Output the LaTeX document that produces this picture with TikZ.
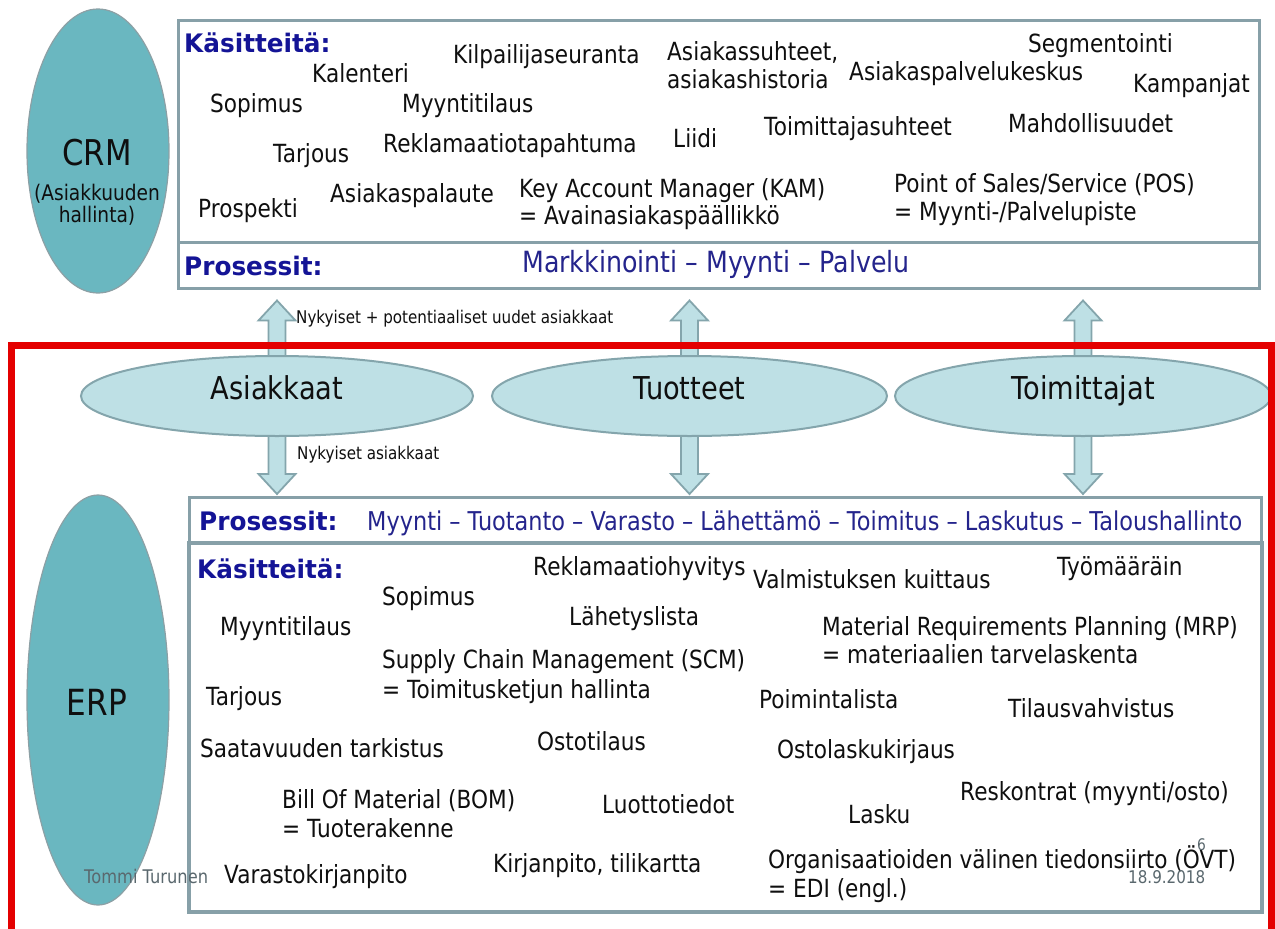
\documentclass[tikz,border=0pt]{standalone}
\usepackage{fontspec}
\setmainfont{DejaVu Sans}[FakeStretch=0.865]
\newfontfamily\headfont{DejaVu Sans}[FakeStretch=0.97]
\usetikzlibrary{calc,shapes.geometric}

\definecolor{inkblack}{RGB}{15,15,15}
\definecolor{headblue}{RGB}{20,20,150}
\definecolor{procblue}{RGB}{36,36,140}
\definecolor{tealfill}{RGB}{106,183,192}
\definecolor{tealline}{RGB}{140,160,165}
\definecolor{palefill}{RGB}{190,224,229}
\definecolor{paleline}{RGB}{132,165,172}
\definecolor{boxline}{RGB}{135,160,168}
\definecolor{framered}{RGB}{228,0,0}
\definecolor{footgray}{RGB}{90,104,110}

\tikzset{
  concept/.style={anchor=base west, inner sep=0pt, text=inkblack, font=\fontsize{25}{30}\selectfont},
  head/.style={anchor=base west, inner sep=0pt, text=headblue, font=\headfont\bfseries\fontsize{25.5}{30}\selectfont},
  proc/.style={anchor=base west, inner sep=0pt, text=procblue},
  note/.style={anchor=base west, inner sep=0pt, text=inkblack, font=\fontsize{17.5}{20}\selectfont},
  foot/.style={inner sep=0pt, text=footgray},
  bigell/.style={ellipse, fill=tealfill, draw=tealline, line width=1.2pt, inner sep=0pt},
  rowell/.style={ellipse, fill=palefill, draw=paleline, line width=2pt, inner sep=0pt,
    text=inkblack, font=\fontsize{31.5}{36}\selectfont, text height=0.76em, text depth=0pt},
  panel/.style={rectangle, fill=white, draw=boxline, line width=2.5pt, inner sep=0pt, anchor=north west},
  barrow/.style={fill=palefill, draw=paleline, line width=1.8pt, line join=miter},
  bigtext/.style={inner sep=0pt, anchor=base, text=inkblack},
}

% vertical block arrow from the shaft base #1 to the tip #2
\newcommand\blockarrow[2]{%
  \draw[barrow] let \p1=(#1), \p2=(#2), \n1={sign(\y2-\y1)} in
    (\x1-8.5pt,\y1) -- (\x1-8.5pt,\y2-\n1*20pt) -- (\x1-18.5pt,\y2-\n1*20pt)
    -- (\x1,\y2) -- (\x1+18.5pt,\y2-\n1*20pt) -- (\x1+8.5pt,\y2-\n1*20pt)
    -- (\x1+8.5pt,\y1) -- cycle;}

\begin{document}
\begin{tikzpicture}[x=1pt,y=-1pt]
\fill[white] (0,0) rectangle (1275,929);
\useasboundingbox (0,0) rectangle (1275,929);

% CRM and ERP panels
\node[panel, minimum width=1081pt, minimum height=222pt] (crmk) at (177,19) {};
\node[panel, minimum width=1081pt, minimum height=46pt] (crmp) at (177,241) {};
\node[panel, minimum width=1072pt, minimum height=46pt] (erpp) at (188,496) {};
\node[panel, minimum width=1072pt, minimum height=368pt] (erpk) at (188,542) {};

% centres of the entity ellipses
\path (277,396) coordinate (asiC) (689.5,396) coordinate (tuoC) (1083,396) coordinate (toiC);

\coordinate (up1) at ($(asiC |- crmp.south)+(0,11)$);
\coordinate (up2) at ($(tuoC |- crmp.south)+(0,11)$);
\coordinate (up3) at ($(toiC |- crmp.south)+(0,11)$);
\coordinate (dn1) at ($(asiC |- erpp.north)+(0,-2)$);
\coordinate (dn2) at ($(tuoC |- erpp.north)+(0,-2)$);
\coordinate (dn3) at ($(toiC |- erpp.north)+(0,-2)$);

\blockarrow{asiC}{up1}
\blockarrow{tuoC}{up2}
\blockarrow{toiC}{up3}
\blockarrow{asiC}{dn1}
\blockarrow{tuoC}{dn2}
\blockarrow{toiC}{dn3}

\node[rowell, minimum width=392pt, minimum height=80pt] (asi) at (asiC) {Asiakkaat};
\node[rowell, minimum width=395pt, minimum height=80pt] (tuo) at (tuoC) {Tuotteet};
\node[rowell, minimum width=376pt, minimum height=80pt] (toi) at (toiC) {Toimittajat};

\node[note] (nyk1) at (296,323) {Nykyiset + potentiaaliset uudet asiakkaat};
\node[note] (nyk2) at (297,459) {Nykyiset asiakkaat};

% CRM / ERP ellipses
\node[bigell, minimum width=142pt, minimum height=284pt] (crm) at (98,151) {};
\node[bigell, minimum width=142pt, minimum height=410pt] (erp) at (98,700) {};
\node[bigtext, font=\fontsize{35.5}{40}\selectfont] (crmt) at (97,165) {CRM};
\node[bigtext, font=\fontsize{21.5}{24}\selectfont] (crms1) at (97,200) {(Asiakkuuden};
\node[bigtext, font=\fontsize{21.5}{24}\selectfont] (crms2) at (97,222) {hallinta)};
\node[bigtext, font=\fontsize{36}{40}\selectfont] (erpt) at (97,715) {ERP};

% CRM concepts
\node[head] (ckas) at (184,52) {Käsitteitä:};
\node[concept] (c1) at (312,82) {Kalenteri};
\node[concept] (c2) at (453,63) {Kilpailijaseuranta};
\node[concept] (c3a) at (667,60) {Asiakassuhteet,};
\node[concept] (c3b) at (667,88) {asiakashistoria};
\node[concept] (c4) at (849,80) {Asiakaspalvelukeskus};
\node[concept] (c5) at (1028,52) {Segmentointi};
\node[concept] (c6) at (1133,92) {Kampanjat};
\node[concept] (c7) at (210,112) {Sopimus};
\node[concept] (c8) at (402,112) {Myyntitilaus};
\node[concept] (c9) at (273,162) {Tarjous};
\node[concept] (c10) at (383,152) {Reklamaatiotapahtuma};
\node[concept] (c11) at (673,147) {Liidi};
\node[concept] (c12) at (764,135) {Toimittajasuhteet};
\node[concept] (c13) at (1008,132) {Mahdollisuudet};
\node[concept] (c14) at (198,217) {Prospekti};
\node[concept] (c15) at (330,202) {Asiakaspalaute};
\node[concept] (c16a) at (519,197) {Key Account Manager (KAM)};
\node[concept] (c16b) at (519,224) {= Avainasiakaspäällikkö};
\node[concept] (c17a) at (894,192) {Point of Sales/Service (POS)};
\node[concept] (c17b) at (894,220) {= Myynti-/Palvelupiste};
\node[head] (cprs) at (184,275) {Prosessit:};
\node[proc, font=\fontsize{29.2}{32}\selectfont] (cprt) at (522,272) {Markkinointi – Myynti – Palvelu};

% ERP concepts
\node[head] (eprs) at (199,530) {Prosessit:};
\node[proc, font=\fontsize{25.9}{30}\selectfont] (eprt) at (367,530)
  {Myynti – Tuotanto – Varasto – Lähettämö – Toimitus – Laskutus – Taloushallinto};
\node[head] (ekas) at (197,578) {Käsitteitä:};
\node[concept] (e1) at (533,575) {Reklamaatiohyvitys};
\node[concept] (e2) at (753,588) {Valmistuksen kuittaus};
\node[concept] (e3) at (1057,575) {Työmääräin};
\node[concept] (e4) at (382,605) {Sopimus};
\node[concept] (e5) at (569,625) {Lähetyslista};
\node[concept] (e6) at (220,635) {Myyntitilaus};
\node[concept] (e7a) at (822,635) {Material Requirements Planning (MRP)};
\node[concept] (e7b) at (822,663) {= materiaalien tarvelaskenta};
\node[concept] (e8a) at (382,668) {Supply Chain Management (SCM)};
\node[concept] (e8b) at (382,698) {= Toimitusketjun hallinta};
\node[concept] (e9) at (206,705) {Tarjous};
\node[concept] (e10) at (759,708) {Poimintalista};
\node[concept] (e11) at (1008,717) {Tilausvahvistus};
\node[concept] (e12) at (200,757) {Saatavuuden tarkistus};
\node[concept] (e13) at (537,750) {Ostotilaus};
\node[concept] (e14) at (777,758) {Ostolaskukirjaus};
\node[concept] (e15a) at (282,808) {Bill Of Material (BOM)};
\node[concept] (e15b) at (282,837) {= Tuoterakenne};
\node[concept] (e16) at (602,813) {Luottotiedot};
\node[concept] (e17) at (960,800) {Reskontrat (myynti/osto)};
\node[concept] (e18) at (848,823) {Lasku};
\node[concept] (e19) at (493,872) {Kirjanpito, tilikartta};
\node[concept] (e20) at (224,883) {Varastokirjanpito};
\node[concept] (e21a) at (768,868) {Organisaatioiden välinen tiedonsiirto (ÖVT)};
\node[concept] (e21b) at (768,897) {= EDI (engl.)};

% footer
\node[foot, anchor=base west, font=\fontsize{18.8}{20}\selectfont] (author) at (84,883) {Tommi Turunen};
\node[foot, anchor=base west, font=\fontsize{17.5}{20}\selectfont] (date) at (1128,883) {18.9.2018};
\node[foot, anchor=base west, font=\fontsize{16}{18}\selectfont] (page) at (1197,850) {6};

% ERP panel outline over the footer text
\draw[draw=boxline, line width=2.5pt] (erpk.north west) rectangle (erpk.south east);

% ERP frame
\draw[framered, line width=7pt] (11,345) rectangle (1271,933);
\end{tikzpicture}
\end{document}
